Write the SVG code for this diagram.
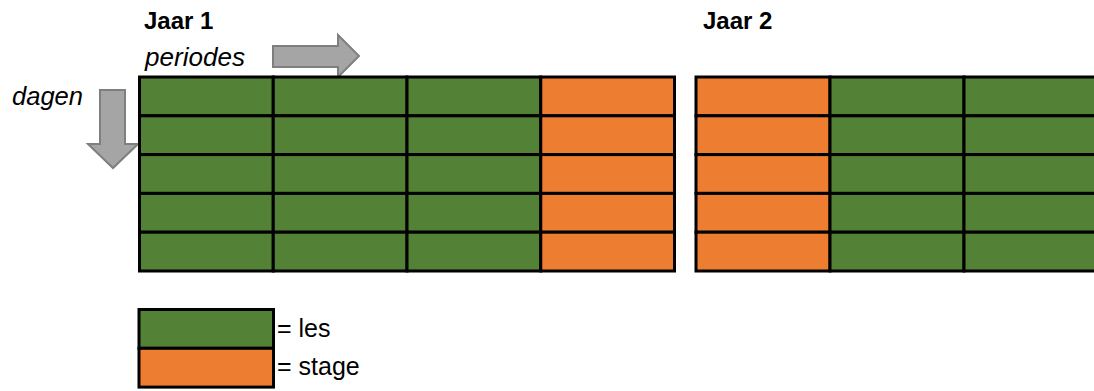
<svg xmlns="http://www.w3.org/2000/svg" width="1094" height="391" viewBox="0 0 1094 391">
<style>
.les{fill:#538135;stroke:#000;stroke-width:3}
.stage{fill:#ED7D31;stroke:#000;stroke-width:3}
.arrow{fill:#A5A5A5;stroke:#7F7F7F;stroke-width:2;stroke-linejoin:miter}
.title{font-family:"Liberation Sans",Arial,sans-serif;font-weight:bold;font-size:24px;fill:#000}
.it{font-family:"Liberation Sans",Arial,sans-serif;font-style:italic;font-size:25px;fill:#000}
.lbl{font-family:"Liberation Sans",Arial,sans-serif;font-size:25px;fill:#000}
</style>
<rect width="1094" height="391" fill="#fff"/>
<g id="labels">
<text class="title" x="144" y="29">Jaar 1</text>
<text class="title" x="703" y="29">Jaar 2</text>
<text class="it" x="145" y="66" textLength="100" lengthAdjust="spacingAndGlyphs">periodes</text>
<text class="it" x="12" y="105" textLength="71" lengthAdjust="spacingAndGlyphs">dagen</text>
</g>
<g id="arrows">
<path class="arrow" d="M273,46 H338 V35 L359,56 L338,77 V67 H273 Z"/>
<path class="arrow" d="M100,90 H125 V144 H138 L113,168 L88,144 H100 Z"/>
</g>
<g id="jaar1">
<rect class="les" x="139.5" y="77" width="133.75" height="38.8"/>
<rect class="les" x="273.25" y="77" width="133.75" height="38.8"/>
<rect class="les" x="407" y="77" width="133.75" height="38.8"/>
<rect class="stage" x="540.75" y="77" width="133.75" height="38.8"/>
<rect class="les" x="139.5" y="115.8" width="133.75" height="38.8"/>
<rect class="les" x="273.25" y="115.8" width="133.75" height="38.8"/>
<rect class="les" x="407" y="115.8" width="133.75" height="38.8"/>
<rect class="stage" x="540.75" y="115.8" width="133.75" height="38.8"/>
<rect class="les" x="139.5" y="154.6" width="133.75" height="38.8"/>
<rect class="les" x="273.25" y="154.6" width="133.75" height="38.8"/>
<rect class="les" x="407" y="154.6" width="133.75" height="38.8"/>
<rect class="stage" x="540.75" y="154.6" width="133.75" height="38.8"/>
<rect class="les" x="139.5" y="193.4" width="133.75" height="38.8"/>
<rect class="les" x="273.25" y="193.4" width="133.75" height="38.8"/>
<rect class="les" x="407" y="193.4" width="133.75" height="38.8"/>
<rect class="stage" x="540.75" y="193.4" width="133.75" height="38.8"/>
<rect class="les" x="139.5" y="232.2" width="133.75" height="38.8"/>
<rect class="les" x="273.25" y="232.2" width="133.75" height="38.8"/>
<rect class="les" x="407" y="232.2" width="133.75" height="38.8"/>
<rect class="stage" x="540.75" y="232.2" width="133.75" height="38.8"/>
</g>
<g id="jaar2">
<rect class="stage" x="696" y="77" width="134" height="38.8"/>
<rect class="les" x="830" y="77" width="134" height="38.8"/>
<rect class="les" x="964" y="77" width="134" height="38.8"/>
<rect class="stage" x="696" y="115.8" width="134" height="38.8"/>
<rect class="les" x="830" y="115.8" width="134" height="38.8"/>
<rect class="les" x="964" y="115.8" width="134" height="38.8"/>
<rect class="stage" x="696" y="154.6" width="134" height="38.8"/>
<rect class="les" x="830" y="154.6" width="134" height="38.8"/>
<rect class="les" x="964" y="154.6" width="134" height="38.8"/>
<rect class="stage" x="696" y="193.4" width="134" height="38.8"/>
<rect class="les" x="830" y="193.4" width="134" height="38.8"/>
<rect class="les" x="964" y="193.4" width="134" height="38.8"/>
<rect class="stage" x="696" y="232.2" width="134" height="38.8"/>
<rect class="les" x="830" y="232.2" width="134" height="38.8"/>
<rect class="les" x="964" y="232.2" width="134" height="38.8"/>
</g>
<g id="legend">
<g id="legend-les">
<rect class="les" x="139" y="309.5" width="134.5" height="38.8"/>
<text class="lbl" x="277" y="337">= les</text>
</g>
<g id="legend-stage">
<rect class="stage" x="139" y="348.3" width="134.5" height="38.8"/>
<text class="lbl" x="277" y="375">= stage</text>
</g>
</g>
</svg>
